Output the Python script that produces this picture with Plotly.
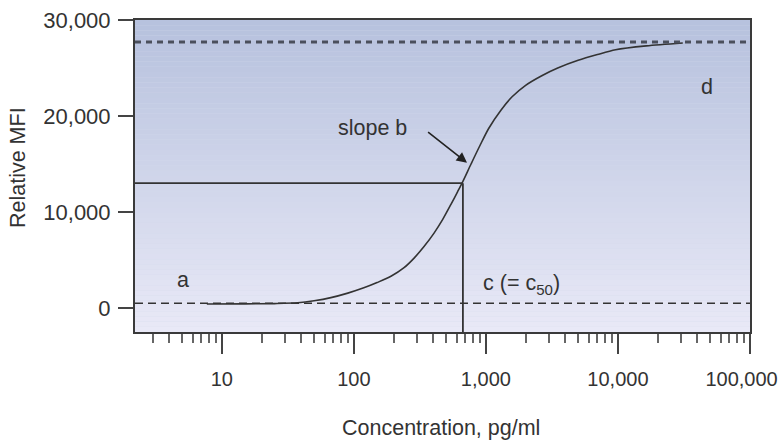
import numpy as np
import plotly.graph_objects as go

# Curve (concentration pg/ml, relative MFI)
conc = [7.7, 15, 25, 37.6, 50, 67, 90, 119, 150, 191, 240, 286, 340, 405, 470, 549, 610, 670,
        772, 900, 1050, 1300, 1580, 2000, 2650, 3500, 5000, 7000, 9600, 16400, 31000]
mfi = [420, 430, 460, 540, 750, 1080, 1550, 2100, 2650, 3300, 4200, 5200, 6400, 7800,
       9200, 10900, 12100, 13200, 15000, 16900, 18700, 20600, 22000, 23200, 24200, 25000,
       25800, 26400, 26900, 27300, 27600]

a_level = 500
d_level = 27700
c50 = 670
y_c50 = 13000

x_tickvals = [10, 100, 1000, 10000, 100000]
x_ticktext = ["10", "100", "1,000", "10,000", "100,000&nbsp;&nbsp;&nbsp;"]
y_tickvals = [0, 10000, 20000, 30000]
minor_vals = [k * 10 ** n for n in range(0, 5) for k in range(2, 10)]

x_range = [np.log10(2.2), 5.0005]
y_range = [-2500, 30000]

FONT = "Liberation Sans, Arial, sans-serif"
INK = "#333333"

fig = go.Figure()
fig.add_trace(go.Scatter(x=conc, y=mfi, mode="lines", line=dict(color=INK, width=1.6, shape="spline", smoothing=0.8),
                         hoverinfo="skip", showlegend=False))

shapes = []
# vertical gradient background
n = 60
top = np.array([183, 194, 222])
bot = np.array([233, 233, 247])
for i in range(n):
    t = i / (n - 1)
    col = top * (1 - t) + bot * t
    shapes.append(dict(type="rect", xref="x domain", yref="y domain", x0=0, x1=1,
                       y0=1 - (i + 1) / n, y1=1 - i / n, line=dict(width=0),
                       fillcolor="rgb(%d,%d,%d)" % tuple(col.astype(int)), layer="below"))
# top asymptote (d)
shapes.append(dict(type="line", xref="x domain", yref="y", x0=0, x1=1, y0=d_level, y1=d_level,
                   line=dict(color="#4a4f5c", width=3, dash="6px,5px")))
# bottom asymptote (a)
shapes.append(dict(type="line", xref="x domain", yref="y", x0=0, x1=1, y0=a_level, y1=a_level,
                   line=dict(color=INK, width=1.4, dash="8px,5px")))
# c50 guide lines
shapes.append(dict(type="line", xref="x domain", yref="y", x0=0, x1=(np.log10(c50) - x_range[0]) / (x_range[1] - x_range[0]),
                   y0=y_c50, y1=y_c50, line=dict(color=INK, width=1.8)))
shapes.append(dict(type="line", xref="x", yref="y domain", x0=c50, x1=c50, y0=0,
                   y1=(y_c50 - y_range[0]) / (y_range[1] - y_range[0]), line=dict(color=INK, width=1.8)))

tf = dict(family=FONT, size=21.5, color=INK)
annotations = [
    dict(x=np.log10(5.06), y=2900, text="a", showarrow=False, font=tf),
    dict(x=np.log10(47400), y=23000, text="d", showarrow=False, font=tf),
    dict(x=np.log10(139), y=18750, text="slope b", showarrow=False, font=tf),
    dict(x=np.log10(916), y=2400, text="c (= c<sub>50</sub>)", showarrow=False, font=tf, xanchor="left"),
    dict(x=np.log10(740), y=15000, text="", showarrow=True, arrowhead=2, arrowsize=1.3,
         arrowwidth=1.6, arrowcolor="#222222", ax=-42, ay=-33, standoff=2),
    dict(xref="paper", yref="paper", x=0.4976, y=-0.308, text="Concentration, pg/ml",
         showarrow=False, font=tf, xanchor="center", yanchor="middle"),
    dict(xref="paper", yref="paper", x=-0.19, y=0.526, text="Relative MFI", textangle=-90,
         showarrow=False, font=tf, xanchor="center", yanchor="middle"),
]

fig.update_layout(
    width=782, height=442,
    margin=dict(l=135, r=32, t=20, b=110, autoexpand=False),
    paper_bgcolor="white", plot_bgcolor="rgb(210,216,235)",
    shapes=shapes, annotations=annotations,
    font=dict(family=FONT, size=22, color=INK),
)
fig.update_xaxes(type="log", range=x_range, tickvals=x_tickvals, ticktext=x_ticktext,
                 ticks="outside", ticklen=20, tickwidth=2, tickcolor="#444444", automargin=False,
                 showgrid=False, zeroline=False, showline=True, linecolor="#3a3a3a", linewidth=2,
                 mirror=True, ticklabelstandoff=8, ticklabeloverflow="allow",
                 minor=dict(tickvals=minor_vals, ticks="outside", ticklen=9, tickwidth=1.5,
                            tickcolor="#666666", showgrid=False),
                 tickfont=dict(family=FONT, size=20, color=INK))
fig.update_yaxes(range=y_range, tickvals=y_tickvals, tickformat=",", automargin=False,
                 ticks="outside", ticklen=15, tickwidth=2, tickcolor="#444444",
                 showgrid=False, zeroline=False, showline=True, linecolor="#3a3a3a", linewidth=2,
                 mirror=True, ticklabelstandoff=3,
                 tickfont=dict(family=FONT, size=22, color=INK))

fig.write_html("out.html")
